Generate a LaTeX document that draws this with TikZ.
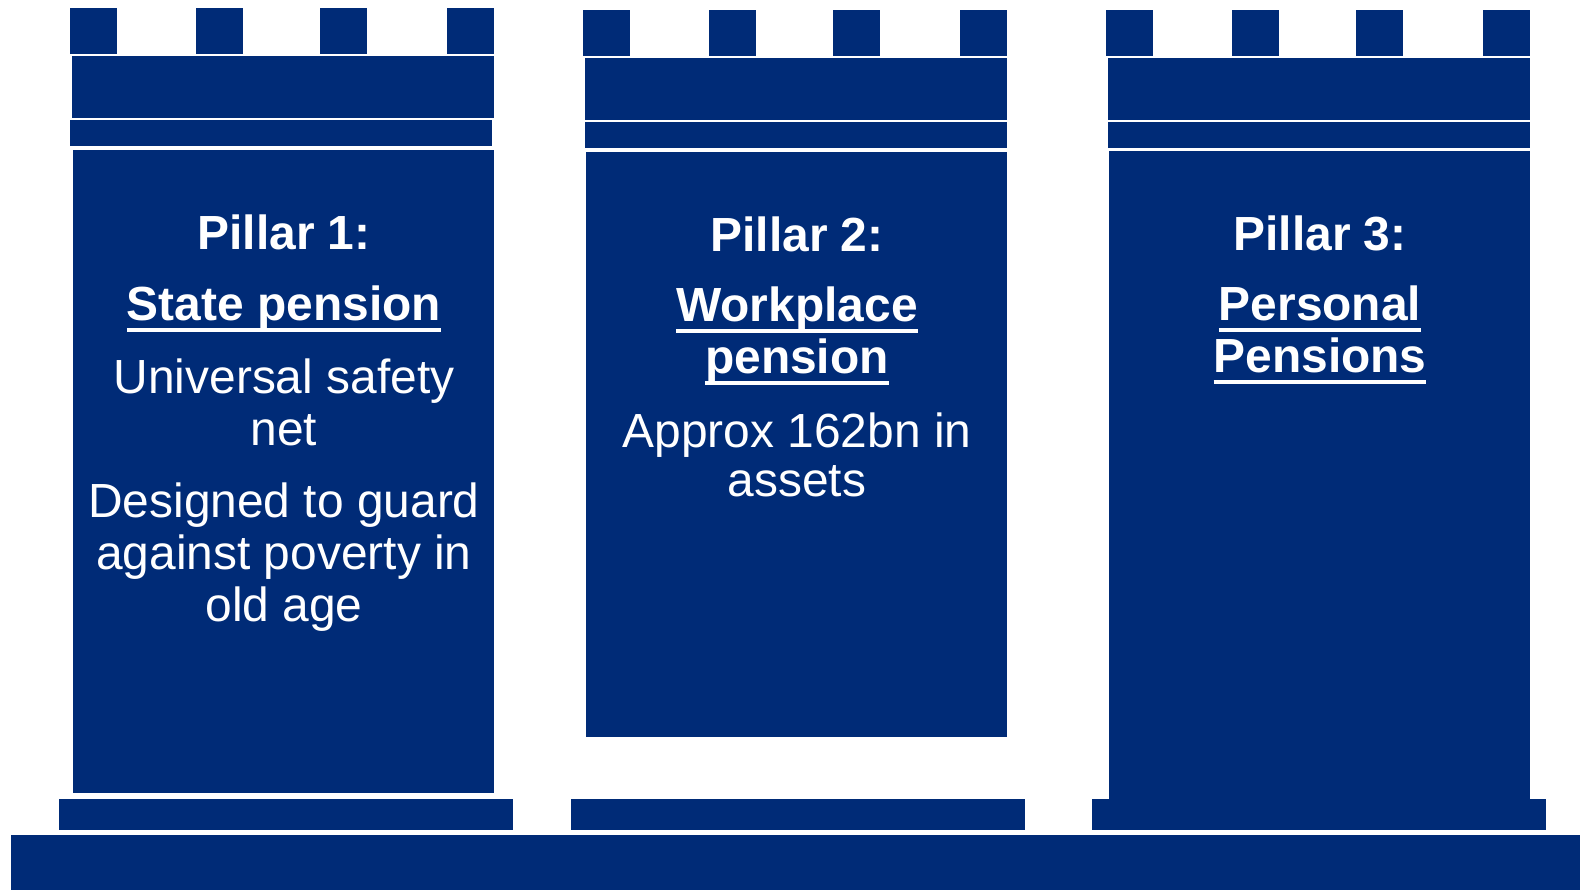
\documentclass[tikz,border=0pt]{standalone}
\usepackage{fontspec}
\setmainfont{Liberation Sans}
\definecolor{navy}{RGB}{0,43,119}
% underline drawn a fixed distance below the baseline
\newcommand\undl[1]{\setbox0\hbox{#1}\rlap{\color{white}\vrule height -7.5pt depth 11pt width \wd0}\box0}
\begin{document}
\begin{tikzpicture}[x=1pt,y=-1pt,
  stone/.style={fill=navy},
  txt/.style={anchor=base,inner sep=0pt,text=white,font=\fontsize{47.9}{52}\selectfont},
  head/.style={txt,font=\fontsize{47.9}{52}\selectfont\bfseries}]
\useasboundingbox (0,0) rectangle (1580,890);
\fill[white] (0,0) rectangle (1580,890);

% ---- Pillar 1 ----
\foreach \mx in {70,196,320,447} \fill[stone] (\mx,8) rectangle ++(47,46);
\fill[stone] (72,56) rectangle (494,118);
\fill[stone] (70,120) rectangle (492,146);
\fill[stone] (73,150) rectangle (494,793);
\fill[stone] (59,799) rectangle (513,830);

% ---- Pillar 2 ----
\foreach \mx in {583,709,833,960} \fill[stone] (\mx,10) rectangle ++(47,46);
\fill[stone] (585,58) rectangle (1007,120);
\fill[stone] (585,122) rectangle (1007,148);
\fill[stone] (586,152) rectangle (1007,737);
\fill[stone] (571,799) rectangle (1025,830);

% ---- Pillar 3 ----
\foreach \mx in {1106,1232,1356,1483} \fill[stone] (\mx,10) rectangle ++(47,46);
\fill[stone] (1108,58) rectangle (1530,120);
\fill[stone] (1108,122) rectangle (1530,148);
\fill[stone] (1109,151) rectangle (1530,799);
\fill[stone] (1092,799) rectangle (1546,830);

% ---- Foundation ----
\fill[stone] (11,835) rectangle (1580,890);

% ---- Pillar 1 text ----
\node[head] (p1a) at (284,250) {Pillar 1:};
\node[head] (p1b) at (284,321) {\undl{State pension}};
\node[txt]  (p1c) at (284,394) {Universal safety};
\node[txt]  (p1d) at (284,446) {net};
\node[txt]  (p1e) at (284,517) {Designed to guard};
\node[txt]  (p1f) at (284,569) {against poverty in};
\node[txt]  (p1g) at (284,621) {old age};

% ---- Pillar 2 text ----
\node[head] (p2a) at (797,252) {Pillar 2:};
\node[head] (p2b) at (797,322) {\undl{Workplace}};
\node[head] (p2c) at (797,374) {\undl{pension}};
\node[txt]  (p2d) at (797,447) {Approx 162bn in};
\node[txt]  (p2e) at (797,496) {assets};

% ---- Pillar 3 text ----
\node[head] (p3a) at (1320,251) {Pillar 3:};
\node[head] (p3b) at (1320,321) {\undl{Personal}};
\node[head] (p3c) at (1320,373) {\undl{Pensions}};
\end{tikzpicture}
\end{document}
